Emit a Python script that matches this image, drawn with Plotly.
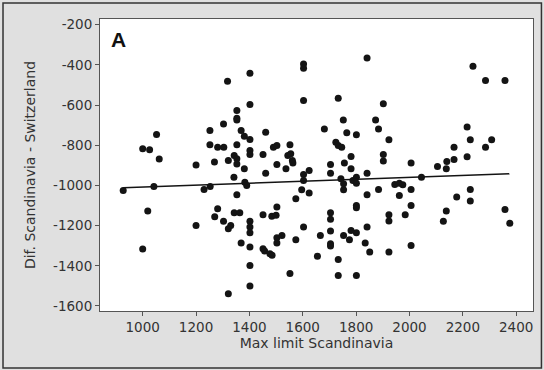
import plotly.graph_objects as go

# Scatter data
x_vals = [927, 1000, 1026, 1052, 1062, 1042, 1019, 1000,
          1200, 1200, 1230, 1253, 1252, 1252, 1269, 1270, 1281, 1281, 1304, 1303, 1303,
          1318, 1321, 1321, 1321, 1330, 1342, 1343, 1353, 1353, 1353, 1353, 1353, 1353, 1353,
          1343, 1364, 1369, 1369, 1381, 1381, 1383, 1390,
          1402, 1402, 1402, 1402, 1402, 1402, 1402, 1402, 1402, 1402, 1402,
          1451, 1451, 1461, 1461, 1451, 1457, 1477, 1485, 1484, 1490, 1500, 1503, 1503, 1503,
          1503, 1503, 1522, 1537, 1544, 1552, 1555, 1561, 1563, 1574, 1574, 1552, 1596,
          1603, 1603, 1603, 1603, 1603, 1603, 1624, 1624, 1655, 1666, 1681,
          1704, 1704, 1704, 1704, 1704, 1704, 1704, 1733, 1724, 1733, 1746, 1733, 1733,
          1743, 1752, 1753, 1753, 1756, 1753, 1765, 1775, 1781, 1781, 1781, 1788,
          1801, 1801, 1801, 1801, 1801, 1801, 1801, 1841, 1841, 1841, 1841, 1834, 1851,
          1873, 1884, 1884, 1902, 1902, 1902, 1923, 1923, 1923, 1923, 1945, 1962, 1962,
          1975, 1984, 2006, 2006, 2006, 2006, 2045, 2105, 2127, 2138, 2138, 2140, 2167,
          2167, 2177, 2216, 2216, 2228, 2228, 2228, 2238, 2285, 2285, 2308, 2358, 2358, 2376]
y_vals = [-1025, -818, -823, -747, -869, -1005, -1128, -1317,
          -898, -1199, -1020, -1005, -727, -798, -884, -1156, -1116, -810, -810, -694, -1179,
          -482, -1539, -876, -1216, -1199, -959, -851, -627, -666, -674, -798, -868, -893, -1047,
          -1136, -1136, -727, -1287, -917, -755, -984, -1000,
          -442, -598, -772, -826, -846, -1179, -1207, -1236, -1307, -1398, -1501,
          -846, -1146, -735, -939, -1315, -1327, -1340, -1348, -1154, -810, -1149, -801, -1108, -896,
          -1260, -1287, -1249, -917, -851, -798, -842, -876, -889, -1067, -1270, -1439, -1022,
          -396, -417, -578, -946, -976, -1207, -926, -1038, -1352, -1249, -719,
          -896, -939, -1136, -1169, -1227, -1290, -1302, -566, -785, -801, -810, -1369, -1448,
          -967, -674, -992, -1022, -888, -1249, -738, -1270, -856, -917, -1224, -976,
          -748, -959, -989, -1100, -1111, -1236, -1448, -366, -939, -1047, -1207, -1287, -1332,
          -674, -719, -1020, -594, -846, -879, -773, -1146, -1177, -1332, -995, -1050, -989,
          -997, -1146, -889, -1020, -1100, -1299, -959, -906, -1179, -917, -1128, -881, -810,
          -871, -1058, -710, -857, -773, -1020, -1078, -407, -478, -810, -773, -478, -1120, -1188]

# Fitted line endpoints as drawn in the reference
trend_x = [927, 2374]
trend_y = [-1012, -942]

y_ticks = [-200, -400, -600, -800, -1000, -1200, -1400, -1600]
y_tick_labels = ["-200", "-400", "-600", "-800", "-1000", "-1200", "-1400", "-1600"]
x_ticks = [1000, 1200, 1400, 1600, 1800, 2000, 2200, 2400]
x_tick_labels = ["1000", "1200", "1400", "1600", "1800", "2000", "2200", "2400"]

fig = go.Figure()
fig.add_trace(go.Scatter(x=x_vals, y=y_vals, mode="markers",
                         marker=dict(size=7, color="#141414"),
                         showlegend=False, hoverinfo="x+y"))
fig.add_trace(go.Scatter(x=trend_x, y=trend_y, mode="lines",
                         line=dict(color="#141414", width=1.6),
                         showlegend=False, hoverinfo="skip"))

font_fam = "DejaVu Sans, Verdana, sans-serif"
fig.update_layout(
    width=544, height=370,
    margin=dict(l=100, r=11, t=19, b=59),
    paper_bgcolor="#e0e0e0",
    plot_bgcolor="#ffffff",
    font=dict(family=font_fam, size=13.5, color="#333333"),
    xaxis=dict(range=[840, 2463], tickvals=x_ticks, ticktext=x_tick_labels,
               showgrid=False, zeroline=False, showline=True, mirror=True,
               linecolor="#555555", linewidth=1, ticks="outside", ticklen=4,
               tickcolor="#555555", tickfont=dict(size=13.5),
               title=dict(text="Max limit Scandinavia", standoff=2,
                          font=dict(size=14, color="#333333"))),
    yaxis=dict(range=[-1625, -172], tickvals=y_ticks, ticktext=y_tick_labels,
               showgrid=False, zeroline=False, showline=True, mirror=True,
               linecolor="#555555", linewidth=1, ticks="outside", ticklen=4,
               tickcolor="#555555", tickfont=dict(size=13.5),
               title=dict(text="Dif. Scandinavia - Switzerland", standoff=14,
                          font=dict(size=14, color="#333333"))),
    annotations=[dict(text="<b>A</b>", xref="paper", yref="paper",
                      x=0.02, y=0.975, xanchor="left", yanchor="top",
                      showarrow=False, font=dict(size=21, color="#111111",
                                                 family="Liberation Sans, Arial, sans-serif"))],
    shapes=[dict(type="rect", xref="paper", yref="paper", layer="above",
                 x0=-0.224, x1=1.0195, y0=-0.195, y1=1.055,
                 line=dict(color="#333333", width=1.5))],
)

fig.write_html("out.html")
